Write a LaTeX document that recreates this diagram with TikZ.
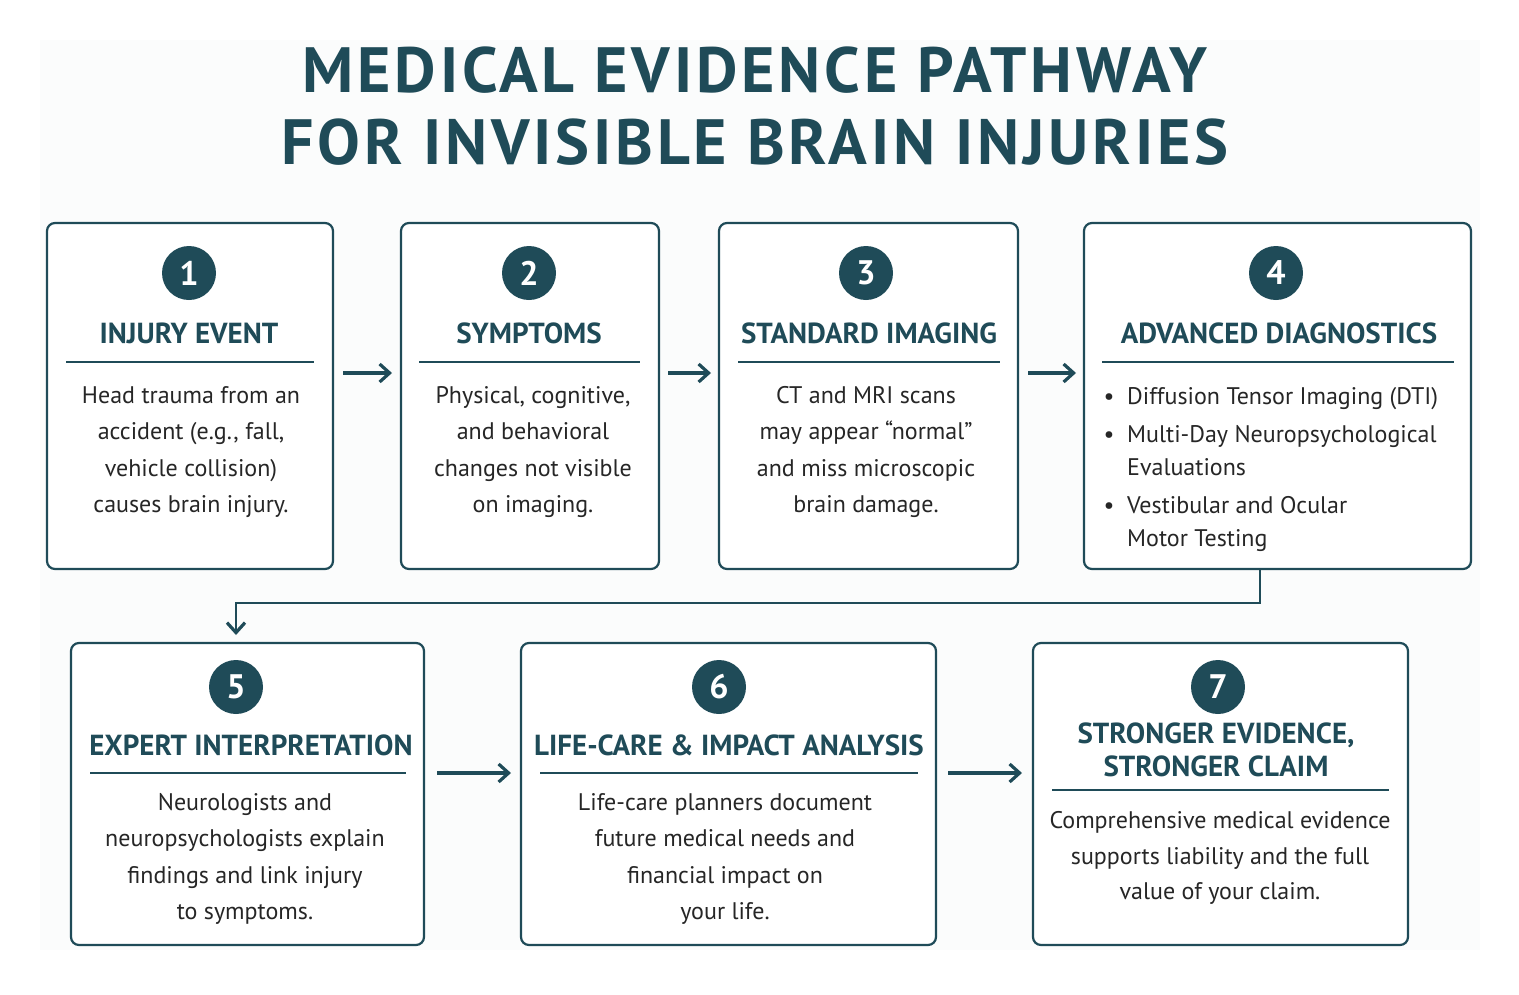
\documentclass[tikz,border=0pt]{standalone}
\usepackage{fontspec}
\setmainfont{PT Sans}
\usetikzlibrary{arrows.meta}
\definecolor{teal}{HTML}{1F4B58}
\definecolor{bg}{HTML}{FBFCFC}
\begin{document}
\begin{tikzpicture}[x=1pt,y=-1pt,
  box/.style={draw=teal,line width=2.2pt,rounded corners=8pt,fill=white},
  num/.style={circle,fill=teal,minimum size=54pt,inner sep=0pt,text=white,font=\fontsize{34}{34}\selectfont\bfseries},
  ttl/.style={text=teal,font=\fontsize{29}{33}\selectfont\bfseries,align=center},
  body/.style={text=black!85,font=\fontsize{24}{36.5}\selectfont,align=center},
  rule/.style={draw=teal,line width=2pt},
  arr/.style={draw=teal,line width=3.2pt,-{Straight Barb[length=10pt,width=18pt,line width=3.2pt]}}]
\useasboundingbox (0,0) rectangle (1519,994);
\fill[white] (0,0) rectangle (1519,994);
\fill[bg] (40,40) rectangle (1480,950);
\node[text=teal,font=\fontsize{64}{72}\selectfont\bfseries\addfontfeature{LetterSpace=6},align=center] (title) at (755,106) {MEDICAL EVIDENCE PATHWAY\\FOR INVISIBLE BRAIN INJURIES};
% row 1
\draw[box] (47,223) rectangle (333,569);
\draw[box] (401,223) rectangle (659,569);
\draw[box] (719,223) rectangle (1018,569);
\draw[box] (1084,223) rectangle (1471,569);
\node[num] (n1) at (189,273) {1};
\node[num] (n2) at (529,273) {2};
\node[num] (n3) at (866,273) {3};
\node[num] (n4) at (1276,273) {4};
\node[ttl] (t1) at (189,333) {INJURY EVENT};
\node[ttl] (t2) at (529,333) {SYMPTOMS};
\node[ttl] (t3) at (869,333) {STANDARD IMAGING};
\node[ttl] (t4) at (1279,333) {ADVANCED DIAGNOSTICS};
\draw[rule] (66,362) -- (314,362);
\draw[rule] (419,362) -- (640,362);
\draw[rule] (738,362) -- (1000,362);
\draw[rule] (1102,362) -- (1454,362);
\node[body] (d1) at (191,452) {Head trauma from an\\accident (e.g., fall,\\vehicle collision)\\causes brain injury.};
\node[body] (d2) at (533,452) {Physical, cognitive,\\and behavioral\\changes not visible\\on imaging.};
\node[body] (d3) at (866,452) {CT and MRI scans\\may appear “normal”\\and miss microscopic\\brain damage.};
\node[body,align=left,anchor=north west,font=\fontsize{24}{33}\selectfont] (d4) at (1100,384) {%
\textbullet\ \ Diffusion Tensor Imaging (DTI)\\[5pt]
\textbullet\ \ Multi-Day Neuropsychological\\
\phantom{\textbullet\ \ }Evaluations\\[5pt]
\textbullet\ \ Vestibular and Ocular\\
\phantom{\textbullet\ \ }Motor Testing};
\draw[arr] (343,373) -- (392,373);
\draw[arr] (668,373) -- (711,373);
\draw[arr] (1028,373) -- (1076,373);
% row 2
\draw[box] (71,643) rectangle (424,945);
\draw[box] (521,643) rectangle (936,945);
\draw[box] (1033,643) rectangle (1408,945);
\node[num] (n5) at (236,687) {5};
\node[num] (n6) at (719,687) {6};
\node[num] (n7) at (1218,687) {7};
\node[ttl] (t5) at (251,745) {EXPERT INTERPRETATION};
\node[ttl] (t6) at (729,745) {LIFE-CARE \& IMPACT ANALYSIS};
\node[ttl] (t7) at (1216,750) {STRONGER EVIDENCE,\\STRONGER CLAIM};
\draw[rule] (90,773) -- (406,773);
\draw[rule] (540,773) -- (918,773);
\draw[rule] (1052,790) -- (1389,790);
\node[body] (d5) at (245,859) {Neurologists and\\neuropsychologists explain\\findings and link injury\\to symptoms.};
\node[body] (d6) at (725,859) {Life-care planners document\\future medical needs and\\financial impact on\\your life.};
\node[body,font=\fontsize{24}{35.5}\selectfont] (d7) at (1220,858) {Comprehensive medical evidence\\supports liability and the full\\value of your claim.};
\draw[arr] (437,773) -- (511,773);
\draw[arr] (948,773) -- (1022,773);
% connector
\coordinate (c1) at (1260,569);
\coordinate (c2) at (236,635);
\draw[arr,line width=2.8pt] (c1) -- (1260,603) -- (236,603) -- (c2);
\end{tikzpicture}
\end{document}
